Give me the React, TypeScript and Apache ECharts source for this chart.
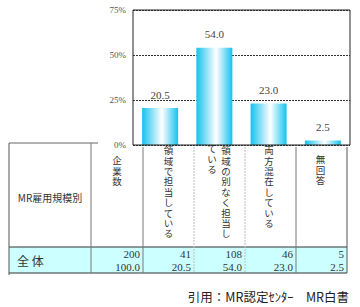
import React, { useEffect, useRef } from "react";
import * as echarts from "echarts";

// ---- data ----
const rowHeaderTitle = "MR雇用規模別";
const countHeader = "企業数";
const categories = ["領域で担当している", "領域の別なく担当している", "両方混在している", "無回答"];
const percentValues = [20.5, 54.0, 23.0, 2.5];
const rowLabel = "全 体";
const totalCount = 200;
const totalPercent = "100.0";
const counts = [41, 108, 46, 5];
const percentTexts = ["20.5", "54.0", "23.0", "2.5"];
const yTicks = [0, 25, 50, 75];
const sourceText = "引用：MR認定ｾﾝﾀｰ　MR白書";

const SERIF = "'Liberation Serif', 'DejaVu Serif', serif";
const SANS = "'Noto Sans CJK JP', 'Noto Sans', sans-serif";

export default function App() {
  const ref = useRef<HTMLDivElement>(null);

  useEffect(() => {
    document.body.style.margin = "0";
    if (!ref.current) return;
    const chart = echarts.init(ref.current, undefined, { renderer: "svg" });

    const colX = [9, 91, 143, 194, 245, 296, 347];
    const headTop = 143;
    const rowTop = 247;
    const rowBottom = 273;

    const g: any[] = [];
    g.push({
      type: "rect",
      shape: { x: colX[0], y: rowTop, width: colX[6] - colX[0], height: rowBottom - rowTop },
      style: { fill: "#ccffff" },
      z: 1,
    });
    g.push({ type: "line", shape: { x1: colX[0], y1: headTop, x2: 98, y2: headTop }, style: { stroke: "#666", lineWidth: 1 }, z: 2 });
    g.push({ type: "line", shape: { x1: colX[0], y1: rowTop, x2: colX[6], y2: rowTop }, style: { stroke: "#333", lineWidth: 1 }, z: 2 });
    g.push({ type: "line", shape: { x1: colX[0], y1: rowBottom, x2: colX[6], y2: rowBottom }, style: { stroke: "#333", lineWidth: 1 }, z: 2 });
    colX.forEach((x, i) => {
      const dashed = i === 3 || i === 4;
      const top = i <= 1 ? headTop : 147;
      g.push({
        type: "line",
        shape: { x1: x, y1: top, x2: x, y2: i === 0 ? rowBottom + 2 : rowBottom },
        style: {
          stroke: dashed ? "#bbb" : i === 0 || i === 6 ? "#555" : "#777",
          lineWidth: 1,
          lineDash: dashed ? [2, 1] : null,
        },
        z: 2,
      });
    });

    g.push({
      type: "text",
      x: (colX[0] + colX[1]) / 2,
      y: 197,
      style: { text: rowHeaderTitle, font: `10px ${SANS}`, fill: "#333", align: "center", verticalAlign: "middle" },
      z: 3,
    });
    const vert = (s: string) => s.split("").join("\n");
    const vText = (s: string, x: number, top: number) => ({
      type: "text",
      x,
      y: top,
      style: { text: vert(s), font: `9.5px ${SANS}`, lineHeight: 10.4, fill: "#333", align: "center", verticalAlign: "top" },
      z: 3,
    });
    g.push(vText(countHeader, (colX[1] + colX[2]) / 2, 155));
    g.push(vText(categories[0], 168.5, 145));
    g.push(vText(categories[1].slice(0, 9), 226, 145));
    g.push(vText(categories[1].slice(9), 212, 143));
    g.push(vText(categories[2], 269, 145));
    g.push(vText(categories[3], 320.5, 154));

    g.push({
      type: "text",
      x: 17,
      y: 260,
      style: { text: rowLabel, font: `12px ${SANS}`, fill: "#333", align: "left", verticalAlign: "middle" },
      z: 3,
    });
    const countsAll = [String(totalCount), ...counts.map(String)];
    const pctAll = [totalPercent, ...percentTexts];
    countsAll.forEach((c, i) => {
      const xr = colX[i + 2] - 3;
      g.push({ type: "text", x: xr, y: 253.5, style: { text: c, font: `11px ${SERIF}`, fill: "#333", align: "right", verticalAlign: "middle" }, z: 3 });
      g.push({ type: "text", x: xr, y: 267, style: { text: pctAll[i], font: `11px ${SERIF}`, fill: "#333", align: "right", verticalAlign: "middle" }, z: 3 });
    });

    g.push({
      type: "text",
      x: 349,
      y: 296,
      style: { text: sourceText, font: `12.5px ${SANS}`, fill: "#222", align: "right", verticalAlign: "middle" },
      z: 3,
    });

    chart.setOption({
      animation: false,
      grid: {
        left: 133,
        right: 10,
        top: 10,
        bottom: 162,
        show: true,
        borderColor: "#222",
        borderWidth: 1,
        backgroundColor: "transparent",
        z: 5,
      },
      xAxis: {
        type: "category",
        data: categories,
        axisLine: { show: false },
        axisTick: { show: false },
        axisLabel: { show: false },
        splitLine: { show: false },
      },
      yAxis: {
        type: "value",
        min: yTicks[0],
        max: yTicks[yTicks.length - 1],
        interval: 25,
        axisLine: { show: false },
        axisTick: { show: false },
        axisLabel: {
          formatter: "{value}%",
          fontFamily: SERIF,
          fontSize: 9,
          color: "#555",
          margin: 7,
        },
        splitLine: { lineStyle: { color: "#333", type: [2, 1], width: 1 } },
      },
      series: [
        {
          type: "bar",
          data: percentValues,
          barWidth: 36,
          z: 4,
          itemStyle: {
            color: new echarts.graphic.LinearGradient(0, 0, 1, 0, [
              { offset: 0, color: "#14c2ef" },
              { offset: 0.55, color: "#ffffff" },
              { offset: 1, color: "#14c2ef" },
            ]),
          },
          label: {
            show: true,
            position: "top",
            distance: 8,
            formatter: (p: any) => p.value.toFixed(1),
            fontFamily: SERIF,
            fontSize: 11,
            color: "#444",
          },
        },
      ],
      graphic: g,
    });

    return () => chart.dispose();
  }, []);

  return <div ref={ref} style={{ width: 360, height: 307 }} />;
}
